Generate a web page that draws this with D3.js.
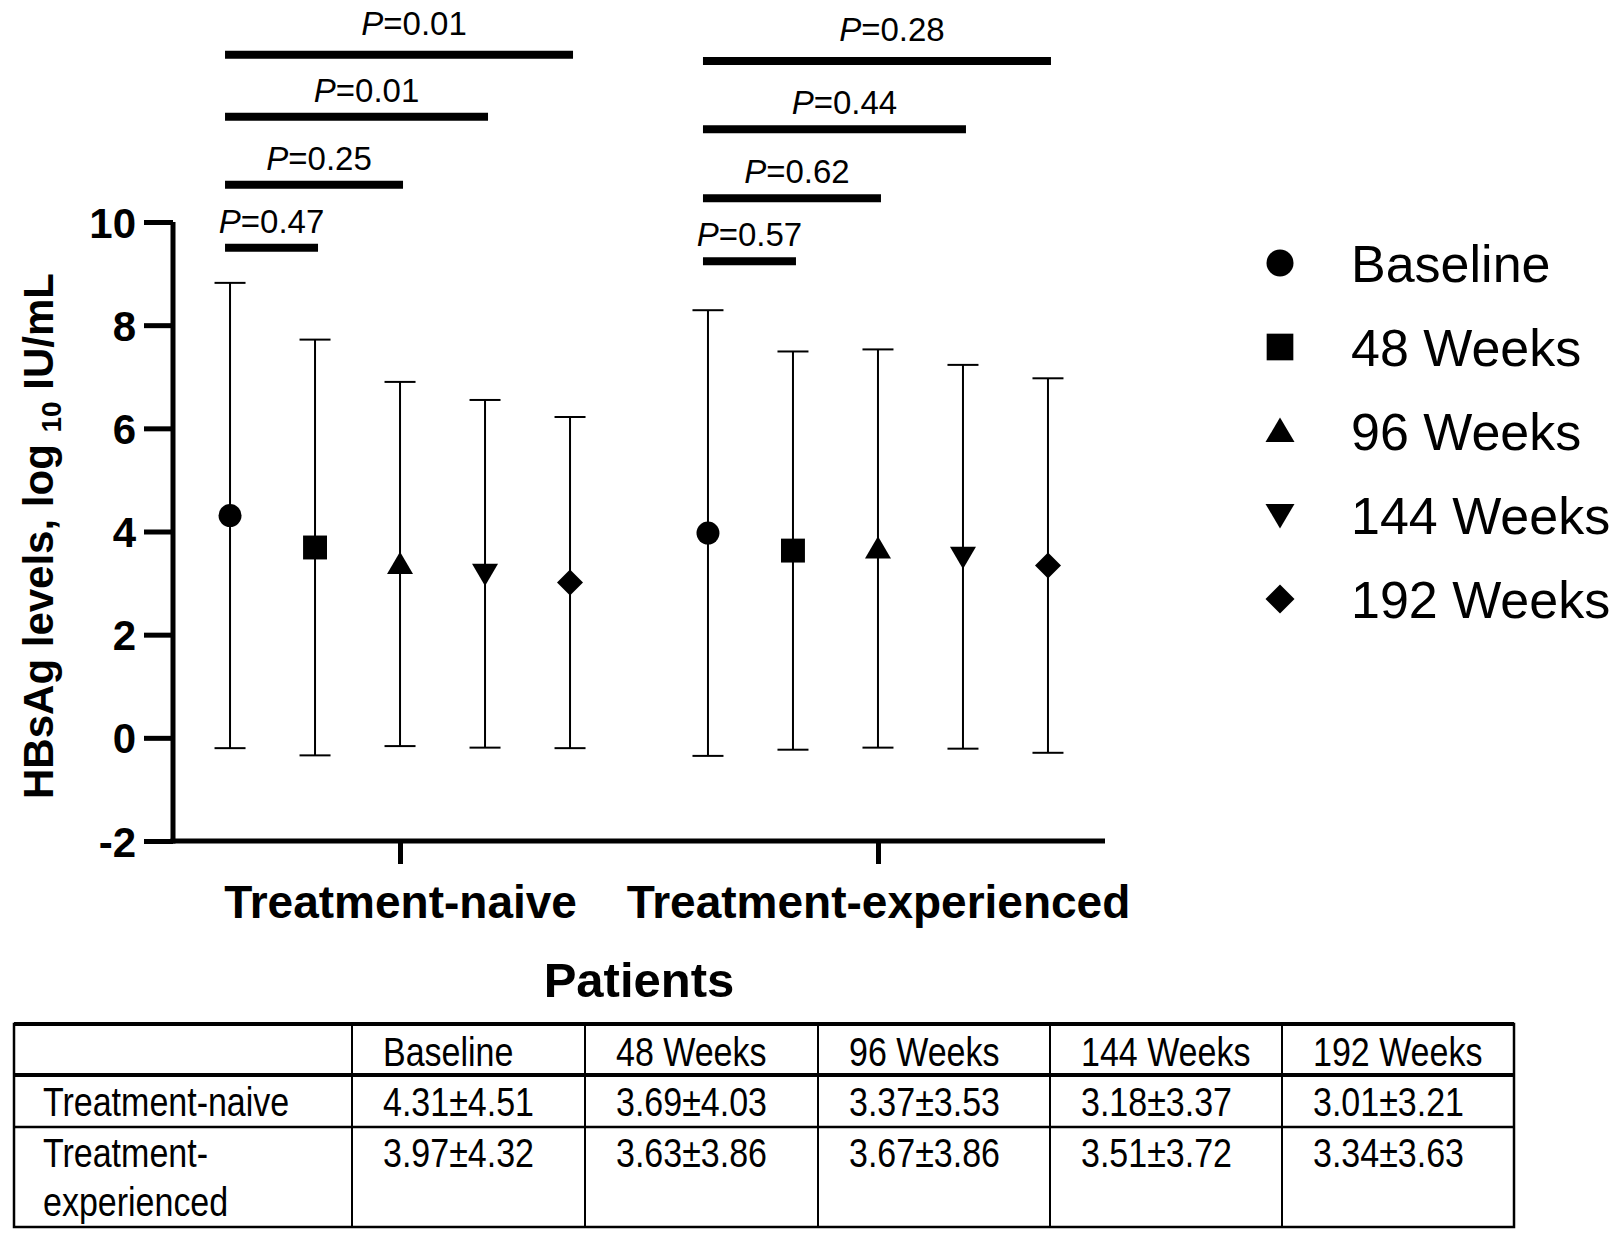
<!DOCTYPE html>
<html>
<head>
<meta charset="utf-8">
<script src="https://cdn.jsdelivr.net/npm/d3@7"></script>
<style>
  body { margin: 0; background: #fff; }
  svg { display: block; }
  text { fill: #000; }
</style>
</head>
<body>
<svg id="chart" width="1617" height="1234"></svg>
<script>
// ---------------- DATA ----------------
const categories = ["Treatment-naive", "Treatment-experienced"];
const series = ["Baseline", "48 Weeks", "96 Weeks", "144 Weeks", "192 Weeks"];
const meanNaive = [4.31, 3.69, 3.37, 3.18, 3.01];
const sdNaive   = [4.51, 4.03, 3.53, 3.37, 3.21];
const meanExp   = [3.97, 3.63, 3.67, 3.51, 3.34];
const sdExp     = [4.32, 3.86, 3.86, 3.72, 3.63];
const pNaive = ["0.47", "0.25", "0.01", "0.01"];
const pExp   = ["0.57", "0.62", "0.44", "0.28"];
const barLevelNaive = [9.5, 10.72, 12.04, 13.24];
const barLevelExp   = [9.24, 10.46, 11.8, 13.12];
const yTicks = [-2, 0, 2, 4, 6, 8, 10];
const tableRowLabels = ["Treatment-naive", "Treatment-experienced"];
const tableNaive = ["4.31±4.51", "3.69±4.03", "3.37±3.53", "3.18±3.37", "3.01±3.21"];
const tableExp   = ["3.97±4.32", "3.63±3.86", "3.67±3.86", "3.51±3.72", "3.34±3.63"];
const yTitle = "HBsAg levels, log", ySub = "10", yUnit = " IU/mL";
const xTitle = "Patients";

// ---------------- LAYOUT ----------------
const svg = d3.select("#chart");
const W = 1617, H = 1234;
svg.append("rect").attr("width", W).attr("height", H).attr("fill", "#fff");

const axL = 173, axR = 1105, axTop = 222, axBot = 841;
const y = d3.scaleLinear().domain([-2, 10]).range([axBot, axTop]);
const x = d3.scalePoint().domain(categories).range([axL, axR]).padding(0.475);
const xs = d3.scalePoint().domain(series).range([-170, 170]);

const boldFont = "'Liberation Sans', Arial, sans-serif";
const groups = [
  {cat: categories[0], mean: meanNaive, sd: sdNaive, p: pNaive, lv: barLevelNaive},
  {cat: categories[1], mean: meanExp, sd: sdExp, p: pExp, lv: barLevelExp}
];

function markerPath(i, s) {
  const p = d3.path();
  if (i === 0) { p.arc(0, 0, s / 2, 0, 2 * Math.PI); }
  else if (i === 1) { p.rect(-s / 2 * 0.92, -s / 2 * 0.92, s * 0.92, s * 0.92); }
  else if (i === 2) { const h = s * 0.85; p.moveTo(0, -h * 0.55); p.lineTo(s / 2, h * 0.45); p.lineTo(-s / 2, h * 0.45); p.closePath(); }
  else if (i === 3) { const h = s * 0.85; p.moveTo(0, h * 0.55); p.lineTo(s / 2, -h * 0.45); p.lineTo(-s / 2, -h * 0.45); p.closePath(); }
  else { p.moveTo(0, -s / 2); p.lineTo(s / 2, 0); p.lineTo(0, s / 2); p.lineTo(-s / 2, 0); p.closePath(); }
  return p.toString();
}

// ---------------- AXES ----------------
const yAxis = d3.axisLeft(y).tickValues(yTicks).tickSize(29).tickPadding(8).tickFormat(d => String(d));
const gy = svg.append("g").attr("transform", `translate(${axL},0)`).call(yAxis);
gy.select(".domain").attr("stroke", "#000").attr("stroke-width", 5).attr("d", `M0,${axBot + 2.5}V${axTop}`);
gy.selectAll(".tick line").attr("stroke", "#000").attr("stroke-width", 5);
gy.selectAll(".tick text").attr("font-family", boldFont).attr("font-weight", "bold").attr("font-size", 42).attr("dy", "0.36em");

const xAxis = d3.axisBottom(x).tickSize(23).tickPadding(18);
const gx = svg.append("g").attr("transform", `translate(0,${axBot})`).call(xAxis);
gx.select(".domain").attr("stroke", "#000").attr("stroke-width", 5).attr("d", `M${axL - 2.5},0H${axR}`);
gx.selectAll(".tick line").attr("stroke", "#000").attr("stroke-width", 5);
gx.selectAll(".tick text").attr("font-family", boldFont).attr("font-weight", "bold").attr("font-size", 46).attr("dy", "0.71em").attr("y", 44);

// axis titles
const yt = svg.append("text").attr("transform", `translate(53,536) rotate(-90)`)
  .attr("text-anchor", "middle").attr("font-family", boldFont).attr("font-weight", "bold").attr("font-size", 42);
yt.append("tspan").text(yTitle + " ");
yt.append("tspan").text(ySub).attr("font-size", 28).attr("dy", 8);
yt.append("tspan").text(yUnit).attr("dy", -8);

svg.append("text").attr("x", 639).attr("y", 997).attr("text-anchor", "middle")
  .attr("font-family", boldFont).attr("font-weight", "bold").attr("font-size", 49).text(xTitle);

// ---------------- ERROR BARS + POINTS ----------------
const capW = 15.5;
groups.forEach(g => {
  const cx = x(g.cat);
  series.forEach((s, i) => {
    const px = cx + xs(s);
    const lo = g.mean[i] - g.sd[i], hi = g.mean[i] + g.sd[i];
    const eb = svg.append("g").attr("stroke", "#000").attr("stroke-width", 2);
    eb.append("line").attr("x1", px).attr("x2", px).attr("y1", y(hi)).attr("y2", y(lo));
    eb.append("line").attr("x1", px - capW).attr("x2", px + capW).attr("y1", y(hi)).attr("y2", y(hi));
    eb.append("line").attr("x1", px - capW).attr("x2", px + capW).attr("y1", y(lo)).attr("y2", y(lo));
    svg.append("path").attr("d", markerPath(i, i === 0 ? 23 : 26))
      .attr("transform", `translate(${px},${y(g.mean[i])})`).attr("fill", "#000");
  });
  g.p.forEach((pv, k) => {
    const x0 = cx + xs(series[0]) - 5, x1 = cx + xs(series[k + 1]) + 3;
    const yy = y(g.lv[k]);
    svg.append("line").attr("x1", x0).attr("x2", x1).attr("y1", yy).attr("y2", yy)
      .attr("stroke", "#000").attr("stroke-width", 8);
    const t = svg.append("text").attr("x", (x0 + x1) / 2 + k * 5).attr("y", yy - 15 - (k === 3 ? 5 : 0)).attr("text-anchor", "middle")
      .attr("font-family", "'Liberation Sans', Arial, sans-serif").attr("font-size", 33);
    t.append("tspan").attr("font-style", "italic").text("P");
    t.append("tspan").text("=" + pv);
  });
});

// ---------------- LEGEND ----------------
const legX = 1280, legY0 = 263, legStep = 84;
series.forEach((s, i) => {
  const ly = legY0 + i * legStep;
  svg.append("path").attr("d", markerPath(i, i === 0 ? 27 : 29))
    .attr("transform", `translate(${legX},${ly})`).attr("fill", "#000");
  svg.append("text").attr("x", 1351).attr("y", ly).attr("dy", "0.36em")
    .attr("font-family", "'Liberation Sans', Arial, sans-serif").attr("font-size", 52).text(s);
});

// ---------------- TABLE ----------------
const colX = [14, 352, 585, 818, 1050, 1282, 1514];
const rowY = [1024, 1075, 1127, 1227];
const tFont = "'Liberation Sans', Arial, sans-serif";
const tg = svg.append("g");
tg.append("rect").attr("x", colX[0]).attr("y", rowY[0]).attr("width", colX[6] - colX[0]).attr("height", rowY[3] - rowY[0])
  .attr("fill", "none").attr("stroke", "#000").attr("stroke-width", 2.5);
tg.append("line").attr("x1", colX[0]).attr("x2", colX[6]).attr("y1", rowY[0]).attr("y2", rowY[0]).attr("stroke", "#000").attr("stroke-width", 4);
tg.append("line").attr("x1", colX[0]).attr("x2", colX[6]).attr("y1", rowY[1]).attr("y2", rowY[1]).attr("stroke", "#000").attr("stroke-width", 4);
tg.append("line").attr("x1", colX[0]).attr("x2", colX[6]).attr("y1", rowY[2]).attr("y2", rowY[2]).attr("stroke", "#000").attr("stroke-width", 2.5);
colX.slice(1, 6).forEach(cx => tg.append("line").attr("x1", cx).attr("x2", cx).attr("y1", rowY[0]).attr("y2", rowY[3]).attr("stroke", "#000").attr("stroke-width", 2));

function cellText(xp, yp, txt) {
  tg.append("text").attr("transform", `translate(${xp},${yp}) scale(0.85,1)`).attr("dy", "0.36em")
    .attr("font-family", tFont).attr("font-size", 40).text(txt);
}
series.forEach((s, i) => cellText(colX[i + 1] + 31, 1052, s));
tableNaive.forEach((v, i) => cellText(colX[i + 1] + 31, 1102, v));
tableExp.forEach((v, i) => cellText(colX[i + 1] + 31, 1153, v));
cellText(colX[0] + 29, 1102, tableRowLabels[0]);
cellText(colX[0] + 29, 1153, "Treatment-");
cellText(colX[0] + 29, 1202, "experienced");
</script>
</body>
</html>
